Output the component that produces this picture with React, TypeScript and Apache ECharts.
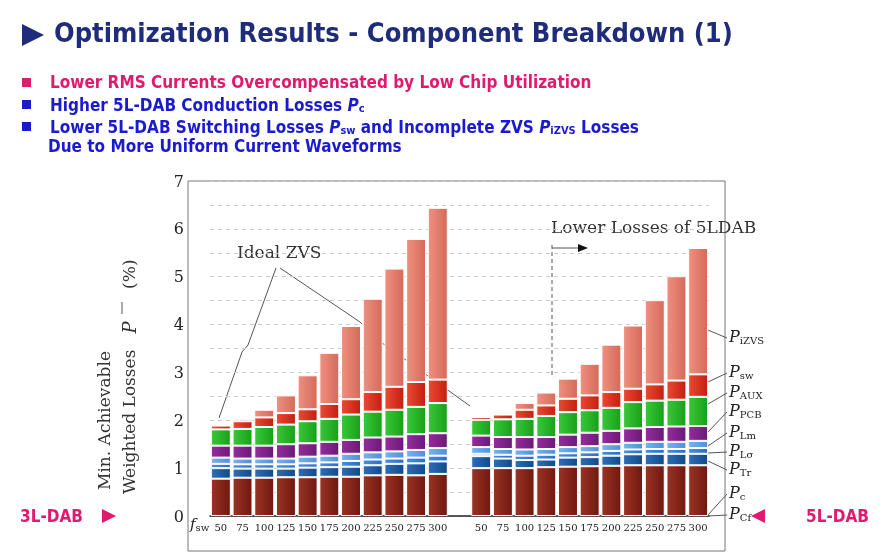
import React, { useRef, useEffect } from "react";
import * as echarts from "echarts";

// frequencies (kHz) for both converter groups, blank category separates them
const freqs = ["50", "75", "100", "125", "150", "175", "200", "225", "250", "275", "300"];
const categories = [...freqs, "", ...freqs];

// 3L-DAB loss components (% of power)
const l3_Pc = [0.78, 0.8, 0.8, 0.81, 0.81, 0.82, 0.82, 0.85, 0.86, 0.85, 0.88];
const l3_Tr = [0.22, 0.19, 0.19, 0.18, 0.2, 0.2, 0.21, 0.21, 0.23, 0.25, 0.26];
const l3_Ls = [0.09, 0.09, 0.09, 0.09, 0.09, 0.1, 0.12, 0.12, 0.11, 0.12, 0.12];
const l3_Lm = [0.13, 0.12, 0.12, 0.12, 0.14, 0.14, 0.15, 0.15, 0.15, 0.16, 0.16];
const l3_PCB = [0.25, 0.27, 0.27, 0.3, 0.28, 0.29, 0.29, 0.31, 0.31, 0.33, 0.31];
const l3_AUX = [0.34, 0.35, 0.39, 0.41, 0.46, 0.48, 0.53, 0.54, 0.56, 0.57, 0.63];
const l3_sw = [0.08, 0.16, 0.2, 0.24, 0.25, 0.31, 0.32, 0.41, 0.48, 0.52, 0.49];
const l3_iZVS = [0.0, 0.05, 0.16, 0.37, 0.71, 1.07, 1.53, 1.95, 2.47, 2.99, 3.59];

// 5L-DAB loss components (% of power)
const l5_Pc = [1.0, 1.0, 1.0, 1.02, 1.03, 1.04, 1.05, 1.06, 1.06, 1.06, 1.06];
const l5_Tr = [0.25, 0.2, 0.17, 0.16, 0.19, 0.19, 0.21, 0.23, 0.24, 0.24, 0.24];
const l5_Ls = [0.05, 0.08, 0.09, 0.1, 0.09, 0.1, 0.1, 0.1, 0.1, 0.1, 0.12];
const l5_Lm = [0.14, 0.12, 0.13, 0.12, 0.13, 0.13, 0.14, 0.14, 0.15, 0.15, 0.15];
const l5_PCB = [0.24, 0.25, 0.26, 0.25, 0.26, 0.28, 0.28, 0.3, 0.31, 0.32, 0.31];
const l5_AUX = [0.33, 0.37, 0.38, 0.44, 0.47, 0.47, 0.48, 0.55, 0.55, 0.56, 0.61];
const l5_sw = [0.06, 0.1, 0.19, 0.22, 0.28, 0.31, 0.33, 0.28, 0.34, 0.4, 0.47];
const l5_iZVS = [0.0, 0.0, 0.14, 0.27, 0.42, 0.66, 0.99, 1.32, 1.76, 2.18, 2.64];

const layers = [
  { name: "Pc", a: l3_Pc, b: l5_Pc, c1: "#9a3324", c2: "#701810" },
  { name: "Tr", a: l3_Tr, b: l5_Tr, c1: "#2f6db5", c2: "#124a8a" },
  { name: "Ls", a: l3_Ls, b: l5_Ls, c1: "#4a8ee0", c2: "#2a6cc4" },
  { name: "Lm", a: l3_Lm, b: l5_Lm, c1: "#7ab2ec", c2: "#4f8fd8" },
  { name: "PCB", a: l3_PCB, b: l5_PCB, c1: "#962c9c", c2: "#6a1a78" },
  { name: "AUX", a: l3_AUX, b: l5_AUX, c1: "#38c838", c2: "#18a018" },
  { name: "sw", a: l3_sw, b: l5_sw, c1: "#ea4a32", c2: "#c41e10" },
  { name: "iZVS", a: l3_iZVS, b: l5_iZVS, c1: "#f09080", c2: "#d46a5a" },
];

const sub = (main: string, s: string) => `{i|${main}}{s|${s}}`;
const legendRich = {
  i: { fontFamily: "DejaVu Serif", fontStyle: "italic", fontSize: 16, fill: "#222", lineHeight: 16 },
  s: { fontFamily: "DejaVu Serif", fontSize: 10, fill: "#222", padding: [8, 0, 0, 0], lineHeight: 16 },
};

export default function App() {
  const ref = useRef<HTMLDivElement>(null);
  useEffect(() => {
    const chart = echarts.init(ref.current, null, { renderer: "svg" });
    const series = layers.map((l) => ({
      name: l.name,
      type: "bar",
      stack: "loss",
      barCategoryGap: "8%",
      data: [...l.a, null, ...l.b],
      itemStyle: {
        color: new echarts.graphic.LinearGradient(0, 0, 1, 0, [
          { offset: 0, color: l.c1 },
          { offset: 1, color: l.c2 },
        ]),
        borderColor: "#fff",
        borderWidth: 1,
      },
    }));
    const txt = (x: number, y: number, text: string, fill: string, size = 17) => ({
      type: "text",
      x,
      y,
      style: { text, fill, font: `bold ${size}px "DejaVu Sans Condensed", "DejaVu Sans"` },
    });
    const line = (x1: number, y1: number, x2: number, y2: number, dash?: number[]) => ({
      type: "line",
      shape: { x1, y1, x2, y2 },
      style: { stroke: "#555", lineWidth: 1, lineDash: dash },
    });
    const richBullet = {
      b: { font: 'bold 17px "DejaVu Sans Condensed"', fill: "#1a1ad0" },
      i: { font: 'italic bold 17px "DejaVu Sans Condensed"', fill: "#1a1ad0" },
      s: { font: 'bold 11px "DejaVu Sans Condensed"', fill: "#1a1ad0", padding: [8, 0, 0, 0] },
    };
    const legendLabels: [string, string, number, number][] = [
      ["P", "iZVS", 338, 330],
      ["P", "sw", 373, 382],
      ["P", "AUX", 393, 404],
      ["P", "PCB", 412, 432],
      ["P", "Lm", 433, 446],
      ["P", "Lσ", 452, 453],
      ["P", "Tr", 470, 461],
      ["P", "c", 494, 515],
      ["P", "Cf", 515, 516],
    ];
    const graphics: any[] = [
      { type: "rect", shape: { x: 188, y: 181, width: 537, height: 370 }, style: { fill: "none", stroke: "#777", lineWidth: 1 } },
      { type: "polygon", shape: { points: [[22, 24], [22, 46], [44, 35]] }, style: { fill: "#1e2c7a" } },
      txt(54, 19, "Optimization Results - Component Breakdown (1)", "#1e2c7a", 27),
      { type: "rect", shape: { x: 22, y: 78, width: 9, height: 9 }, style: { fill: "#e01a6e" } },
      txt(50, 73, "Lower RMS Currents Overcompensated by Low Chip Utilization", "#e01a6e"),
      { type: "rect", shape: { x: 22, y: 100, width: 9, height: 9 }, style: { fill: "#1a1ad0" } },
      { type: "text", x: 50, y: 95, style: { text: "{b|Higher 5L-DAB Conduction Losses }{i|P}{s|c}", rich: richBullet } },
      { type: "rect", shape: { x: 22, y: 122, width: 9, height: 9 }, style: { fill: "#1a1ad0" } },
      {
        type: "text", x: 50, y: 117,
        style: {
          text: "{b|Lower 5L-DAB Switching Losses }{i|P}{s|sw}{b| and Incomplete ZVS }{i|P}{s|iZVS}{b| Losses}",
          rich: richBullet,
        },
      },
      txt(48, 137, "Due to More Uniform Current Waveforms", "#1a1ad0"),
      txt(20, 507, "3L-DAB", "#e01a6e"),
      { type: "polygon", shape: { points: [[102, 509], [102, 523], [116, 516]] }, style: { fill: "#e01a6e" } },
      { type: "polygon", shape: { points: [[765, 509], [765, 523], [751, 516]] }, style: { fill: "#e01a6e" } },
      txt(806, 507, "5L-DAB", "#e01a6e"),
      {
        type: "text", x: 95, y: 490, rotation: Math.PI / 2,
        style: { text: "Min. Achievable", font: '17px "DejaVu Serif"', fill: "#333", align: "left", verticalAlign: "top" },
      },
      {
        type: "text", x: 120, y: 494, rotation: Math.PI / 2,
        style: {
          text: "Weighted Losses   {i|P}      (%)",
          rich: { i: { font: 'italic 18px "DejaVu Serif"', fill: "#333" } },
          font: '17px "DejaVu Serif"', fill: "#333", align: "left", verticalAlign: "top",
        },
      },
      line(122, 302, 122, 314),
      {
        type: "text", x: 190, y: 516,
        style: { text: "{i|f}{s|sw}", rich: { i: { font: 'italic 15px "DejaVu Serif"', fill: "#222" }, s: { font: '10px "DejaVu Serif"', fill: "#222", padding: [6, 0, 0, 0] } } },
      },
      { type: "text", x: 237, y: 243, style: { text: "Ideal ZVS", font: '17px "DejaVu Serif"', fill: "#333" } },
      { type: "polyline", shape: { points: [[276, 268], [248, 345], [242, 352], [219, 418]] }, style: { stroke: "#555", fill: "none", lineWidth: 1 } },
      { type: "polyline", shape: { points: [[280, 268], [360, 322], [378, 340], [470, 406]] }, style: { stroke: "#555", fill: "none", lineWidth: 1 } },
      { type: "text", x: 551, y: 218, style: { text: "Lower Losses of 5LDAB", font: '17px "DejaVu Serif"', fill: "#333" } },
      line(552, 245, 552, 376, [4, 3]),
      line(552, 248, 580, 248),
      { type: "polygon", shape: { points: [[578, 244], [578, 252], [588, 248]] }, style: { fill: "#111" } },
    ];
    for (const [m, s, ly, by] of legendLabels) {
      graphics.push({ type: "text", x: 729, y: ly - 10, style: { text: sub(m, s), rich: legendRich } });
      graphics.push(line(708, by, 727, ly));
    }
    chart.setOption({
      animation: false,
      grid: { left: 210, right: 175, top: 181, bottom: 38 },
      xAxis: {
        type: "category",
        data: categories,
        axisLine: { lineStyle: { color: "#222", width: 1.5 } },
        axisTick: { lineStyle: { color: "#222" } },
        axisLabel: { color: "#222", fontFamily: "DejaVu Serif", fontSize: 10, margin: 6, interval: 0 },
      },
      yAxis: {
        type: "value",
        min: 0,
        max: 7,
        interval: 0.5,
        axisLine: { show: false },
        axisTick: { show: false },
        axisLabel: {
          margin: 26,
          color: "#222",
          fontFamily: "DejaVu Serif",
          fontSize: 16,
          formatter: (v: number) => (Number.isInteger(v) ? String(v) : ""),
        },
        splitLine: { lineStyle: { color: "#ccc", type: [4, 4] } },
      },
      series,
      graphic: graphics,
    });
    return () => chart.dispose();
  }, []);
  return <div ref={ref} style={{ position: "fixed", left: 0, top: 0, width: 884, height: 554 }} />;
}
